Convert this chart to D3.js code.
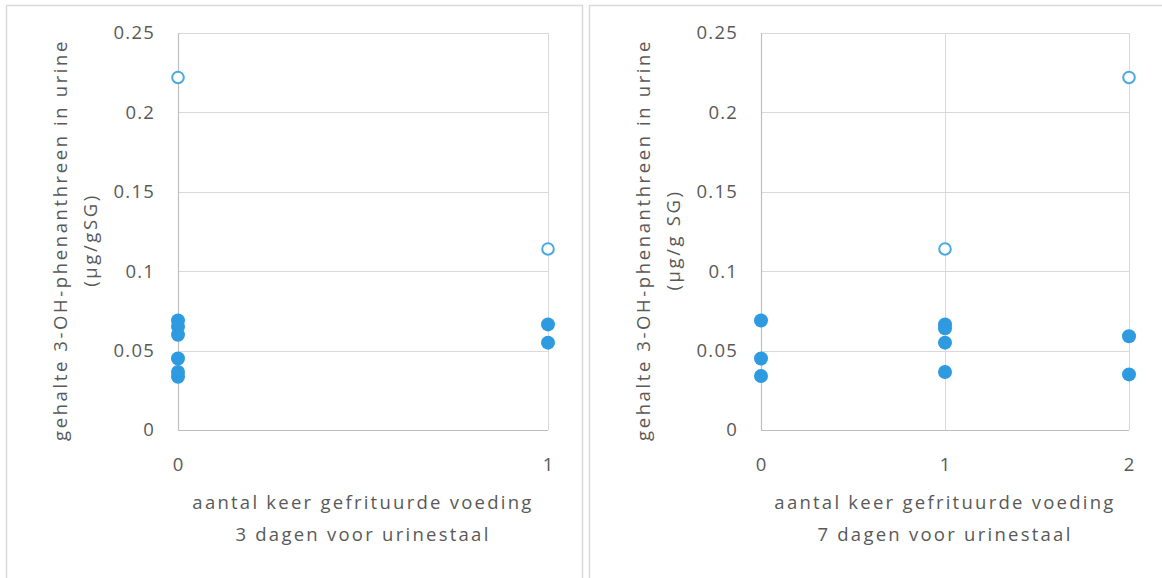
<!DOCTYPE html>
<html>
<head>
<meta charset="utf-8">
<script src="https://cdn.jsdelivr.net/npm/d3@7"></script>
<style>
  html, body { margin: 0; padding: 0; background: #fff; }
  svg text { font-family: "Open Sans", "Noto Sans", sans-serif; fill: #595959; }
</style>
</head>
<body>
<svg id="chart" width="1162" height="578"></svg>
<script>
// 3-OH-phenanthrene in urine versus number of fried meals
const yTicks = [0, 0.05, 0.1, 0.15, 0.2, 0.25];
const yTitle = "gehalte 3-OH-phenanthreen in urine";

// Panel A: 3 days before sample
const catsA = [0, 1];
const filledXA = [0, 0, 0, 0, 0, 0, 1, 1];
const filledYA = [0.069, 0.065, 0.060, 0.045, 0.0365, 0.0335, 0.0665, 0.055];
const openXA = [0, 1];
const openYA = [0.222, 0.114];

// Panel B: 7 days before sample
const catsB = [0, 1, 2];
const filledXB = [0, 0, 0, 1, 1, 1, 1, 2, 2];
const filledYB = [0.069, 0.045, 0.034, 0.0665, 0.064, 0.055, 0.0365, 0.059, 0.035];
const openXB = [1, 2];
const openYB = [0.114, 0.222];

const panels = [
  { box: [6, 5, 576, 590], plot: [178, 548], cats: catsA, fx: filledXA, fy: filledYA, ox: openXA, oy: openYA,
    unit: "(µg/gSG)", xt: ["aantal keer gefrituurde voeding", "3 dagen voor urinestaal"] },
  { box: [589, 5, 590, 590], plot: [761, 1129], cats: catsB, fx: filledXB, fy: filledYB, ox: openXB, oy: openYB,
    unit: "(µg/g SG)", xt: ["aantal keer gefrituurde voeding", "7 dagen voor urinestaal"] }
];

const svg = d3.select("#chart");
const blue = "#2e9be0";
const grid = "#d9d9d9";
const fs = "18.5px";

panels.forEach(p => {
  const g = svg.append("g");
  g.append("rect")
    .attr("x", p.box[0] + 0.5).attr("y", p.box[1] + 0.5)
    .attr("width", p.box[2]).attr("height", p.box[3])
    .attr("fill", "#fff").attr("stroke", grid).attr("stroke-width", 1.5);

  const x = d3.scaleLinear().domain(d3.extent(p.cats)).range(p.plot);
  const y = d3.scaleLinear().domain([0, 0.25]).range([430, 33]);

  // horizontal gridlines
  g.append("g").selectAll("line").data(yTicks.filter(d => d > 0)).join("line")
    .attr("x1", p.plot[0]).attr("x2", p.plot[1])
    .attr("y1", d => Math.round(y(d)) + 0.5).attr("y2", d => Math.round(y(d)) + 0.5)
    .attr("stroke", grid).attr("stroke-width", 1);

  // vertical gridlines at categories > 0
  g.append("g").selectAll("line").data(p.cats.filter(d => d > 0)).join("line")
    .attr("x1", d => Math.round(x(d)) + 0.5).attr("x2", d => Math.round(x(d)) + 0.5)
    .attr("y1", y(0.25)).attr("y2", y(0))
    .attr("stroke", grid).attr("stroke-width", 1);

  // axes lines
  g.append("line")
    .attr("x1", Math.round(x(0)) + 0.5).attr("x2", Math.round(x(0)) + 0.5)
    .attr("y1", y(0.25)).attr("y2", y(0))
    .attr("stroke", "#bfbfbf").attr("stroke-width", 1.2);
  g.append("line")
    .attr("x1", p.plot[0]).attr("x2", p.plot[1])
    .attr("y1", Math.round(y(0)) + 0.5).attr("y2", Math.round(y(0)) + 0.5)
    .attr("stroke", "#bfbfbf").attr("stroke-width", 1.2);

  // y tick labels
  g.append("g").selectAll("text").data(yTicks).join("text")
    .attr("x", p.plot[0] - 23).attr("y", d => y(d))
    .attr("dy", "0.35em").attr("text-anchor", "end")
    .style("font-size", fs).style("letter-spacing", "1.2px")
    .text(d => d === 0 ? "0" : String(d));

  // x tick labels
  g.append("g").selectAll("text").data(p.cats).join("text")
    .attr("x", d => x(d)).attr("y", 465)
    .attr("dy", "0.35em").attr("text-anchor", "middle")
    .style("font-size", fs)
    .text(d => d);

  // x title
  const mid = (p.plot[0] + p.plot[1]) / 2;
  g.append("g").selectAll("text").data(p.xt).join("text")
    .attr("x", mid).attr("y", (d, i) => 503 + i * 32)
    .attr("dy", "0.35em").attr("text-anchor", "middle")
    .style("font-size", fs).style("letter-spacing", "2.25px")
    .text(d => d);

  // y title (rotated, two lines)
  const tx = p.plot[0] - 117;
  const yt = g.append("g").attr("transform", `translate(${tx},240) rotate(-90)`);
  yt.selectAll("text").data([yTitle, p.unit]).join("text")
    .attr("x", 0).attr("y", (d, i) => i * 30)
    .attr("dy", "0.35em").attr("text-anchor", "middle")
    .style("font-size", fs).style("letter-spacing", "2.6px")
    .text(d => d);

  // open markers
  g.append("g").selectAll("circle").data(p.ox.map((v, i) => [v, p.oy[i]])).join("circle")
    .attr("cx", d => x(d[0])).attr("cy", d => y(d[1])).attr("r", 5.8)
    .attr("fill", "#fff").attr("stroke", "#4aa8e3").attr("stroke-width", 2);

  // filled markers
  g.append("g").selectAll("circle").data(p.fx.map((v, i) => [v, p.fy[i]])).join("circle")
    .attr("cx", d => x(d[0])).attr("cy", d => y(d[1])).attr("r", 7)
    .attr("fill", blue);
});
</script>
</body>
</html>
